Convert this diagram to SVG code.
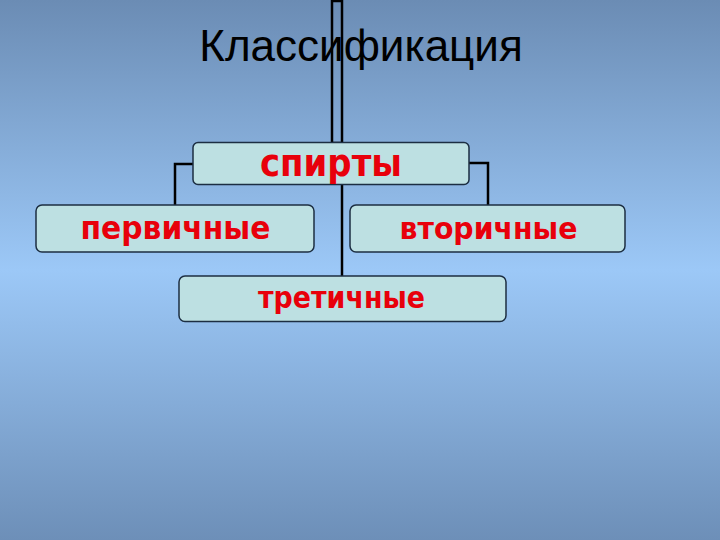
<svg xmlns="http://www.w3.org/2000/svg" width="720" height="540" viewBox="0 0 720 540">
<defs>
<linearGradient id="bg" x1="0" y1="0" x2="0" y2="1">
<stop offset="0" stop-color="#6b8cb4"/>
<stop offset="0.5" stop-color="#9cc8f7"/>
<stop offset="1" stop-color="#6d8fb8"/>
</linearGradient>
<style>
.box{fill:#bde0e2;stroke:#1c2e42;stroke-width:1.5}
.lbl{font-family:"DejaVu Sans",Verdana,sans-serif;font-weight:bold;fill:#e8000b;text-anchor:middle}
.con{fill:none;stroke:#000;stroke-width:2.5}
.title{font-family:"Liberation Sans",Arial,sans-serif;font-size:44px;fill:#000;text-anchor:middle}
</style>
</defs>
<rect x="0" y="0" width="720" height="540" fill="url(#bg)"/>
<text class="title" x="361" y="61">Классификация</text>
<g id="connectors">
<rect class="con" x="332" y="1" width="10" height="142" stroke-width="2"/>
<polyline class="con" points="193,164 175,164 175,205"/>
<polyline class="con" points="469,163 488,163 488,205"/>
<line class="con" x1="342" y1="184" x2="342" y2="276"/>
</g>
<g id="spirty">
<rect class="box" x="193" y="142.5" width="276" height="42" rx="5"/>
<text class="lbl" x="331" y="176" font-size="37" textLength="142" lengthAdjust="spacingAndGlyphs">спирты</text>
</g>
<g id="pervichnye">
<rect class="box" x="36" y="205" width="278" height="47" rx="6"/>
<text class="lbl" x="175.5" y="239" font-size="32" textLength="190" lengthAdjust="spacingAndGlyphs">первичные</text>
</g>
<g id="vtorichnye">
<rect class="box" x="350" y="205" width="275" height="47" rx="6"/>
<text class="lbl" x="488.5" y="239" font-size="31" textLength="178" lengthAdjust="spacingAndGlyphs">вторичные</text>
</g>
<g id="tretichnye">
<rect class="box" x="179" y="276" width="327" height="45.5" rx="6"/>
<text class="lbl" x="341.5" y="308" font-size="30" textLength="167" lengthAdjust="spacingAndGlyphs">третичные</text>
</g>
</svg>
